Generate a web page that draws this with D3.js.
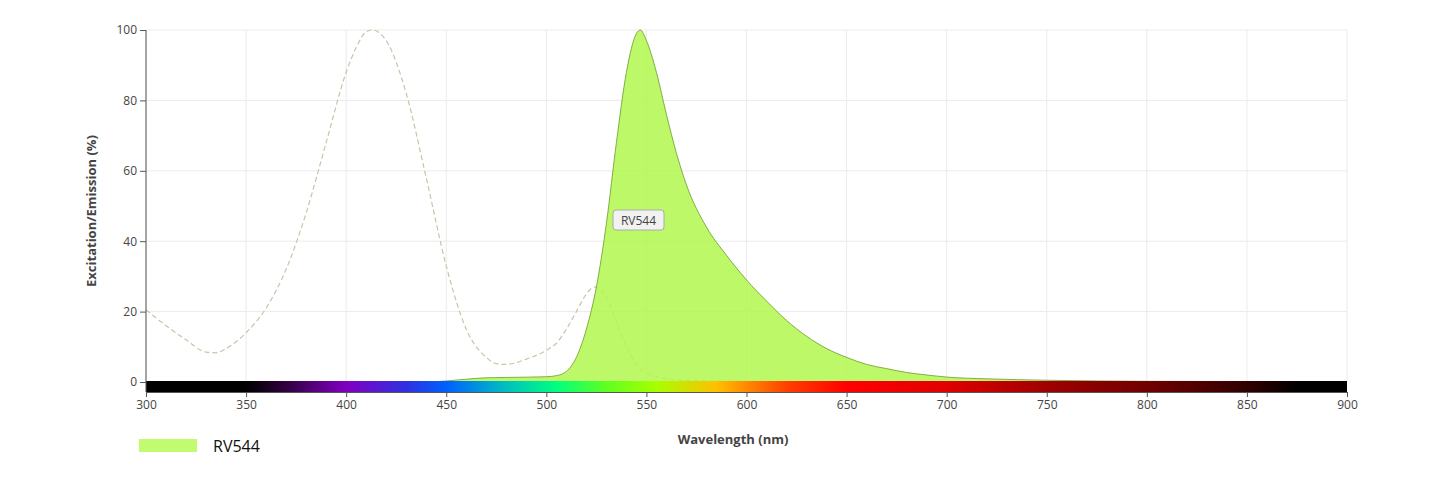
<!DOCTYPE html>
<html><head><meta charset="utf-8">
<script src="https://cdn.jsdelivr.net/npm/d3@7"></script>
<style>body{margin:0;background:#fff;font-family:"Open Sans",sans-serif}</style>
</head><body><svg id="c" width="1440" height="501"></svg>
<script>
const exWl=[300,310,320,330,335,340,350,360,370,380,390,400,405,410,413,420,430,440,450,460,470,475,480,490,500,505,510,515,520,524,530,535,540,545,550,560,570,600,650,900];
const exVal=[20.5,16,12,8.5,8.3,9.5,14,21,32,48,68,88,95,99.5,100,97,82,58,33,15,7,5.2,5,6.5,9,11,15,20,25,27,24,17,10,5,2.5,1,0.5,0.2,0,0];
const emWl=[300,440,450,460,470,480,500,505,510,515,520,525,530,535,540,545,547,550,555,560,565,570,580,590,600,610,620,630,640,650,660,670,680,690,700,720,750,800,850,900];
const emVal=[0,0,0.3,0.8,1.2,1.3,1.5,1.8,3,7,15,27,45,68,88,99,100,97,88,76,65,56,44,36,29,23,17.5,13,9.5,7,5,3.8,2.7,2,1.4,0.9,0.5,0.2,0.1,0];
const xTicks=[300,350,400,450,500,550,600,650,700,750,800,850,900];
const yTicks=[0,20,40,60,80,100];
const specStops=[[300,"#000"],[350,"#000"],[370,"#300040"],[400,"#8000c0"],[430,"#3030e0"],[450,"#0060ff"],[480,"#00c0c0"],[505,"#00ff80"],[530,"#60ff20"],[555,"#a8ff00"],[585,"#ffc000"],[620,"#ff4000"],[650,"#ff0000"],[700,"#e00000"],[750,"#a00000"],[800,"#700000"],[850,"#300000"],[875,"#000"],[900,"#000"]];
const seriesName="RV544";

const svg=d3.select("#c");
const x=d3.scaleLinear().domain([300,900]).range([146,1347]);
const y=d3.scaleLinear().domain([0,100]).range([382,30]);
const g=svg.append("g");
g.selectAll(".vg").data(xTicks).join("line").attr("x1",d=>x(d)).attr("x2",d=>x(d)).attr("y1",30).attr("y2",382).attr("stroke","#ebebeb");
g.selectAll(".hg").data(yTicks).join("line").attr("x1",146).attr("x2",1347).attr("y1",d=>y(d)).attr("y2",d=>y(d)).attr("stroke","#ebebeb");

const ex=exWl.map((w,i)=>[w,exVal[i]]), em=emWl.map((w,i)=>[w,emVal[i]]);
svg.append("path").datum(ex).attr("d",d3.line().x(d=>x(d[0])).y(d=>y(d[1])).curve(d3.curveMonotoneX))
 .attr("fill","none").attr("stroke","#c9c4a8").attr("stroke-width",1.2).attr("stroke-dasharray","5,3");
svg.append("path").datum(em).attr("d",d3.area().x(d=>x(d[0])).y0(y(0)).y1(d=>y(d[1])).curve(d3.curveMonotoneX))
 .attr("fill","#b2f74f").attr("fill-opacity",0.85).attr("stroke","#6a9a2a").attr("stroke-width",0.8);

const grad=svg.append("defs").append("linearGradient").attr("id","sp").attr("x1","0").attr("x2","1");
grad.selectAll("stop").data(specStops).join("stop").attr("offset",d=>(d[0]-300)/600).attr("stop-color",d=>d[1]);
svg.append("rect").attr("x",146).attr("y",381).attr("width",1201).attr("height",11).attr("fill","url(#sp)");

const xa=svg.append("g").attr("transform","translate(0,392)").call(d3.axisBottom(x).tickValues(xTicks).tickSize(5).tickSizeOuter(0));
const ya=svg.append("g").attr("transform","translate(146,0)").call(d3.axisLeft(y).tickValues(yTicks).tickSize(6).tickSizeOuter(0));
[xa,ya].forEach(a=>{a.selectAll("path,line").attr("stroke","#555");a.selectAll("text").attr("fill","#444").attr("font-size",12).attr("font-family","Open Sans");});
ya.select(".domain").attr("d","M0,30V392");

svg.append("text").attr("x",733).attr("y",444).attr("text-anchor","middle").attr("font-weight","bold").attr("font-size",13).attr("fill","#444").text("Wavelength (nm)");
svg.append("text").attr("transform","translate(96,211) rotate(-90)").attr("text-anchor","middle").attr("font-weight","bold").attr("font-size",13).attr("fill","#444").text("Excitation/Emission (%)");

svg.append("rect").attr("x",613).attr("y",210).attr("width",51).attr("height",20).attr("rx",3).attr("fill","#f2f2f2").attr("stroke","#aaa");
svg.append("text").attr("x",638.5).attr("y",225).attr("text-anchor","middle").attr("font-size",12).attr("fill","#444").text(seriesName);

svg.append("rect").attr("x",139).attr("y",439).attr("width",58).attr("height",13).attr("fill","#c2fb70");
svg.append("text").attr("x",213).attr("y",452).attr("font-size",16).attr("fill","#111").text(seriesName);
</script></body></html>
